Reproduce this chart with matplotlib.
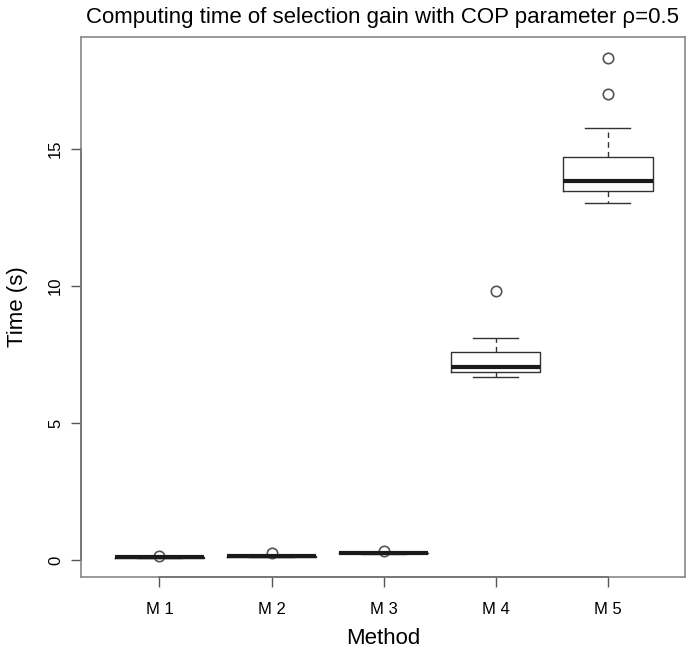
import matplotlib
matplotlib.use("Agg")
import matplotlib.pyplot as plt
from matplotlib.lines import Line2D

plt.rcParams['font.family'] = ['Liberation Sans', 'DejaVu Sans']

methods = ["M 1", "M 2", "M 3", "M 4", "M 5"]
whislo = [0.08, 0.11, 0.22, 6.68, 13.04]
q1 = [0.09, 0.12, 0.24, 6.86, 13.48]
med = [0.10, 0.13, 0.25, 7.04, 13.84]
q3 = [0.11, 0.14, 0.26, 7.59, 14.70]
whishi = [0.13, 0.16, 0.29, 8.10, 15.77]
fliers = [[0.14], [0.25], [0.34], [9.82], [17.0, 18.33]]

yticks = [0, 5, 10, 15]
title = "Computing time of selection gain with COP parameter ρ=0.5"

fig = plt.figure(figsize=(6.86, 6.49), dpi=100)
ax = fig.add_axes([81/686, 1-577/649, 1-81/686-1/686, (577-37)/649])

stats = []
for i, m in enumerate(methods):
    stats.append(dict(label=m, whislo=whislo[i], q1=q1[i], med=med[i],
                      q3=q3[i], whishi=whishi[i], fliers=fliers[i]))

pos = list(range(1, len(methods) + 1))
ax.bxp(stats, positions=pos, widths=0.8, showfliers=True,
       boxprops=dict(color='#333333', linewidth=1.0),
       medianprops=dict(color='#1a1a1a', linewidth=3.0, solid_capstyle='butt'),
       whiskerprops=dict(color='#333333', linewidth=1.0, linestyle=(0, (4, 3))),
       capprops=dict(color='#333333', linewidth=1.0),
       flierprops=dict(marker='o', markersize=7.5, markerfacecolor='none',
                       markeredgecolor='#555555', markeredgewidth=1.2))

ax.set_xlim(0.30, 5.69)
ax.set_ylim(-0.62, 19.09)

ax.set_xticks(pos)
ax.set_xticklabels(methods, fontsize=12)
ax.set_yticks(yticks)
ax.set_yticklabels([str(v) for v in yticks], fontsize=12, rotation=90, va='center')
ax.tick_params(axis='both', direction='out', length=7, width=1, color='#555555')
ax.tick_params(axis='x', pad=11)
ax.tick_params(axis='y', pad=6)

for s in ax.spines.values():
    s.set_color('#888888')
    s.set_linewidth(1.2)

# darker axis lines across tick range, R style
ax.add_line(Line2D([0.30, 0.30], [yticks[0], yticks[-1]], color='#333333', lw=1.4, clip_on=False))
ax.add_line(Line2D([pos[0], pos[-1]], [-0.62, -0.62], color='#333333', lw=1.4, clip_on=False))

ax.set_xlabel("Method", fontsize=16, labelpad=8)
ax.set_ylabel("Time (s)", fontsize=16, labelpad=14)
ax.set_title(title, fontsize=16, pad=10)

fig.savefig("out.png", dpi=100)
